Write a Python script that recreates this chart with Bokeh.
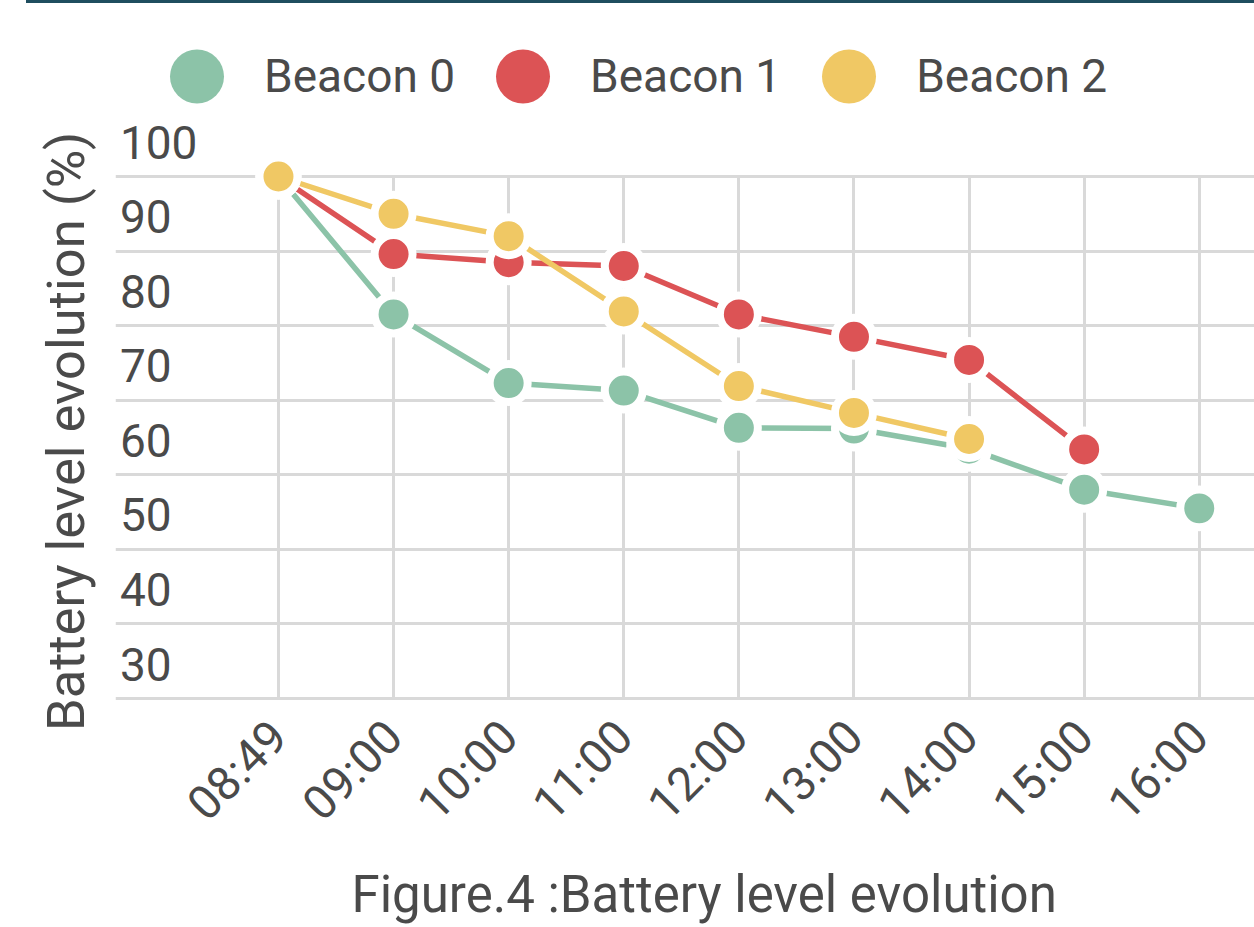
import math
from bokeh.plotting import figure
from bokeh.models import (Range1d, LinearAxis, FixedTicker, Grid, Legend, LegendItem,
                          Title, Div)
from bokeh.layouts import column
from bokeh.embed import file_html
from bokeh.resources import INLINE

# ---- data ----
times = ["08:49", "09:00", "10:00", "11:00", "12:00", "13:00", "14:00", "15:00", "16:00"]
beacon_0 = [100, 81.5, 72.3, 71.3, 66.3, 66.2, 63.5, 58.0, 55.5]
beacon_1 = [100, 89.6, 88.5, 88.0, 81.5, 78.5, 75.4, 63.4]
beacon_2 = [100, 95.0, 92.0, 81.9, 71.9, 68.3, 64.8]
series_names = ["Beacon 0", "Beacon 1", "Beacon 2"]
y_ticks = [30, 40, 50, 60, 70, 80, 90, 100]
y_title = "Battery level evolution (%)"
caption = "Figure.4 :Battery level evolution"

# ---- styles / layout ----
colors = ["#8cc3a8", "#dc5355", "#f0c864"]
TEXT = "#4a4a4a"
FONT = "Roboto"
GRID = "#d9d9d9"

W, H = 1254, 924
Y0, Y1 = 7.74, 120.92        # frame spans below the x labels and above the legend
LAB_SHIFT = 4.55

p = figure(width=W, height=H, output_backend="svg", toolbar_location=None,
           x_range=Range1d(-1.416, 8.48), y_range=Range1d(Y0, Y1),
           y_axis_location=None,
           min_border_left=115, min_border_right=0, min_border_top=17, min_border_bottom=63)
p.outline_line_color = None
p.background_fill_color = "white"
p.border_fill_color = "white"

# drop any default horizontal grid
p.center = [r for r in p.center if not (isinstance(r, Grid) and r.dimension == 1)]

# x axis, pinned to the lowest grid line
xa = p.xaxis[0]
xa.fixed_location = y_ticks[0]
xa.ticker = FixedTicker(ticks=list(range(len(times))))
xa.major_label_overrides = {i: t for i, t in enumerate(times)}
xa.major_label_orientation = math.pi / 4
xa.major_label_text_font_size = "47px"
xa.major_label_text_font = FONT
xa.major_label_text_color = TEXT
xa.axis_line_color = None
xa.major_tick_line_color = None
xa.minor_tick_line_color = None
xa.major_tick_out = 0
xa.major_label_standoff = 30

p.xgrid.ticker = xa.ticker
p.xgrid.grid_line_color = GRID
p.xgrid.grid_line_width = 3
p.xgrid.cross_bounds = (y_ticks[0], y_ticks[-1])

yg = Grid(dimension=1, ticker=FixedTicker(ticks=y_ticks), grid_line_color=GRID, grid_line_width=3)
p.add_layout(yg)

# y tick labels (sitting above their grid lines, inside the plot, flush left)
widest = max(len(str(t)) for t in y_ticks)
p.extra_y_ranges = {"lab": Range1d(Y0 - LAB_SHIFT, Y1 - LAB_SHIFT)}
ya = LinearAxis(y_range_name="lab", ticker=FixedTicker(ticks=y_ticks), fixed_location=-0.704,
                axis_line_color=None, major_tick_line_color=None, minor_tick_line_color=None,
                major_tick_out=0, major_label_standoff=0,
                major_label_overrides={t: str(t) + "\u2007" * (widest - len(str(t))) for t in y_ticks},
                major_label_text_font_size="46px", major_label_text_font=FONT,
                major_label_text_color=TEXT)
p.add_layout(ya, "left")

p.add_layout(Title(text=y_title, align="left", offset=133.5, vertical_align="bottom",
                   standoff=37,
                   text_font_size="52.5px", text_font_style="normal", text_color=TEXT,
                   text_font=FONT), "left")

p.add_layout(Title(text=caption, align="left", offset=236, vertical_align="top", standoff=0,
                   text_font_size="51px", text_font_style="normal", text_color=TEXT,
                   text_font=FONT), "below")

# series
items = []
for name, vals, col in zip(series_names, [beacon_0, beacon_1, beacon_2], colors):
    xs = list(range(len(vals)))
    p.line(xs, vals, line_color=col, line_width=5.5)
    key = p.scatter(xs, vals, size=20, fill_color=col, line_color=None)   # hidden under markers, used as legend key
    p.scatter(xs, vals, size=38, fill_color=col, line_color="white", line_width=8)
    items.append(LegendItem(label=name, renderers=[key]))

leg = Legend(items=items, orientation="horizontal", location=(14, 718),
             glyph_width=135, glyph_height=140, label_standoff=0, spacing=0,
             padding=0, margin=0, background_fill_alpha=0, border_line_color=None,
             label_text_font_size="46px", label_text_color=TEXT, label_text_font=FONT)
p.add_layout(leg)

bar = Div(text="", width=1228, height=3, margin=(0, 0, 0, 26),
          styles={"background-color": "#1f4e5f"})
layout = column(bar, p, spacing=0)

open("out.html", "w").write(file_html(layout, INLINE))
